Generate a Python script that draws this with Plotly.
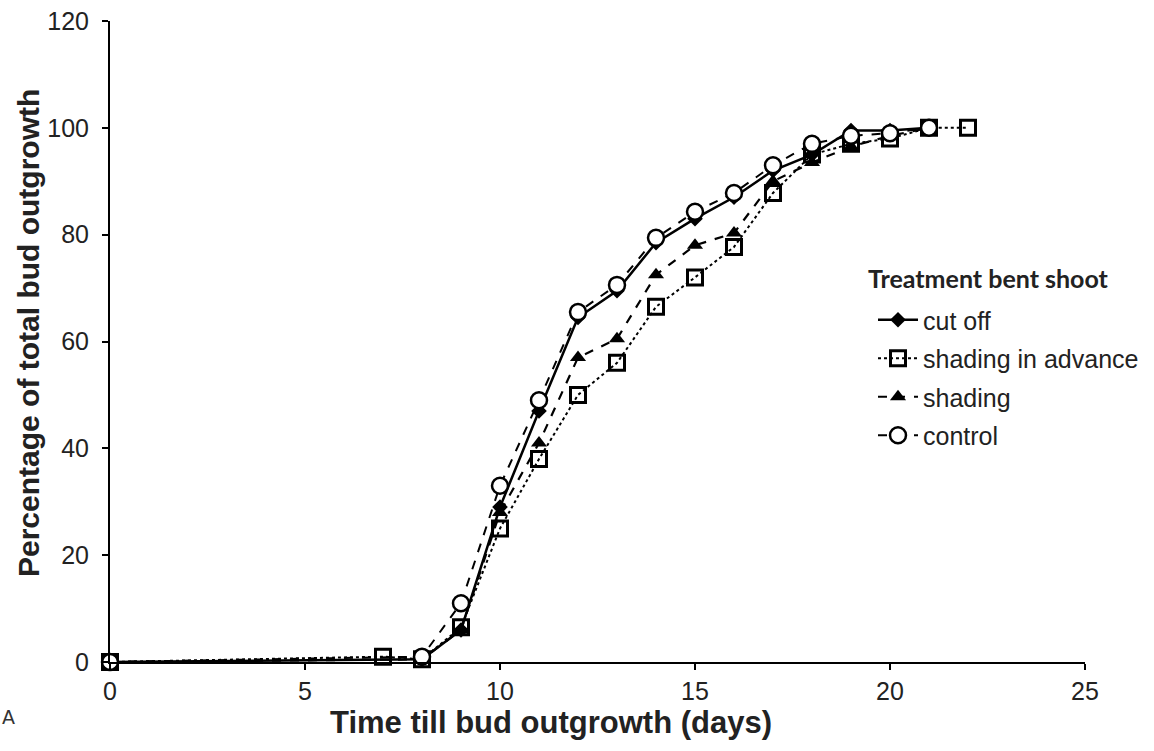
import plotly.graph_objects as go

days_cut = [0, 8, 9, 10, 11, 12, 13, 14, 15, 16, 17, 18, 19, 20, 21]
cut_off = [0, 0.5, 6, 29, 47, 64.5, 69.5, 78.5, 83, 87, 92, 95, 99.5, 99.5, 100]

days_adv = [0, 7, 8, 9, 10, 11, 12, 13, 14, 15, 16, 17, 18, 19, 20, 21, 22]
shading_adv = [0, 1, 0.5, 6.5, 25, 38, 50, 56, 66.5, 72, 77.7, 87.8, 95, 97, 98, 100, 100]

days_sh = [0, 8, 9, 10, 11, 12, 13, 14, 15, 16, 17, 18, 19, 20, 21]
shading = [0, 0.5, 6, 28, 41, 57, 60.5, 72.5, 78, 80.3, 90, 93.5, 96.5, 98.5, 100]

days_ctl = [0, 8, 9, 10, 11, 12, 13, 14, 15, 16, 17, 18, 19, 20, 21]
control = [0, 1, 11, 33, 49, 65.5, 70.6, 79.4, 84.3, 87.8, 93, 97, 98.5, 99, 100]

x_ticks = [0, 5, 10, 15, 20, 25]
y_ticks = [0, 20, 40, 60, 80, 100, 120]

fig = go.Figure()
fig.add_trace(go.Scatter(x=days_cut, y=cut_off, name="cut off", mode="lines+markers", legendgroup="a",
                         line=dict(color="black", width=2.5, dash="solid"),
                         marker=dict(symbol="diamond", size=12, color="black"), cliponaxis=False))
fig.add_trace(go.Scatter(x=days_adv, y=shading_adv, name="shading in advance", mode="lines+markers",
                         legendgroup="b",
                         line=dict(color="black", width=2, dash="dot"),
                         marker=dict(symbol="square-open", size=15, color="black", line=dict(width=3)),
                         cliponaxis=False))
fig.add_trace(go.Scatter(x=days_sh, y=shading, name="shading", mode="lines+markers", legendgroup="c",
                         line=dict(color="black", width=2.2, dash="dash"),
                         marker=dict(symbol="triangle-up", size=14, color="black"), cliponaxis=False))
fig.add_trace(go.Scatter(x=days_ctl, y=control, name="control", mode="lines+markers", legendgroup="d",
                         line=dict(color="black", width=2, dash="dash"),
                         marker=dict(symbol="circle", size=16, color="white", line=dict(color="black", width=2.5)),
                         cliponaxis=False))

axis_font = dict(family="Liberation Sans, Arial, sans-serif", size=25, color="#222")
fig.update_layout(
    width=1154, height=751,
    margin=dict(l=110, r=69, t=21, b=89, autoexpand=False),
    plot_bgcolor="white", paper_bgcolor="white",
    showlegend=True,
    legend=dict(x=(873 - 110) / 975, y=(662 - 297) / 641, xanchor="left", yanchor="top",
                font=dict(family="Liberation Sans, Arial, sans-serif", size=25, color="#222"),
                itemwidth=40, bgcolor="rgba(0,0,0,0)", tracegroupgap=3),
    xaxis=dict(range=[0, 25], tickvals=x_ticks, showline=True, linecolor="black", linewidth=2,
               ticks="outside", ticklen=6, tickwidth=2, tickcolor="black", showgrid=False,
               zeroline=False, tickfont=axis_font, automargin=False),
    yaxis=dict(range=[0, 120], tickvals=y_ticks, showline=True, linecolor="black", linewidth=2,
               ticks="outside", ticklen=6, tickwidth=2, tickcolor="black", showgrid=False,
               zeroline=False, tickfont=axis_font, ticklabelstandoff=8, automargin=False),
)
fig.add_annotation(text="<b>Treatment bent shoot</b>", xref="paper", yref="paper",
                   x=(866 - 110) / 975, y=(662 - 278) / 641, xanchor="left", yanchor="middle",
                   showarrow=False, font=dict(family="Lato, Open Sans, sans-serif", size=25, color="#222"))
fig.add_annotation(text="<b>Time till bud outgrowth (days)</b>", xref="paper", yref="paper",
                   x=(551 - 110) / 975, y=(662 - 722) / 641, xanchor="center", yanchor="middle",
                   showarrow=False, font=dict(family="Liberation Sans, Arial, sans-serif", size=31, color="#222"))
fig.add_annotation(text="<b>Percentage of total bud outgrowth</b>", xref="paper", yref="paper",
                   x=(28 - 110) / 975, y=(662 - 333) / 641, xanchor="center", yanchor="middle",
                   textangle=-90, showarrow=False,
                   font=dict(family="Liberation Sans, Arial, sans-serif", size=30, color="#222"))
fig.add_annotation(text="A", xref="paper", yref="paper",
                   x=(0 - 110) / 975, y=(662 - 717) / 641, xanchor="left", yanchor="middle",
                   showarrow=False, font=dict(family="DejaVu Sans, sans-serif", size=19, color="#333"))

fig.write_html("out.html")
